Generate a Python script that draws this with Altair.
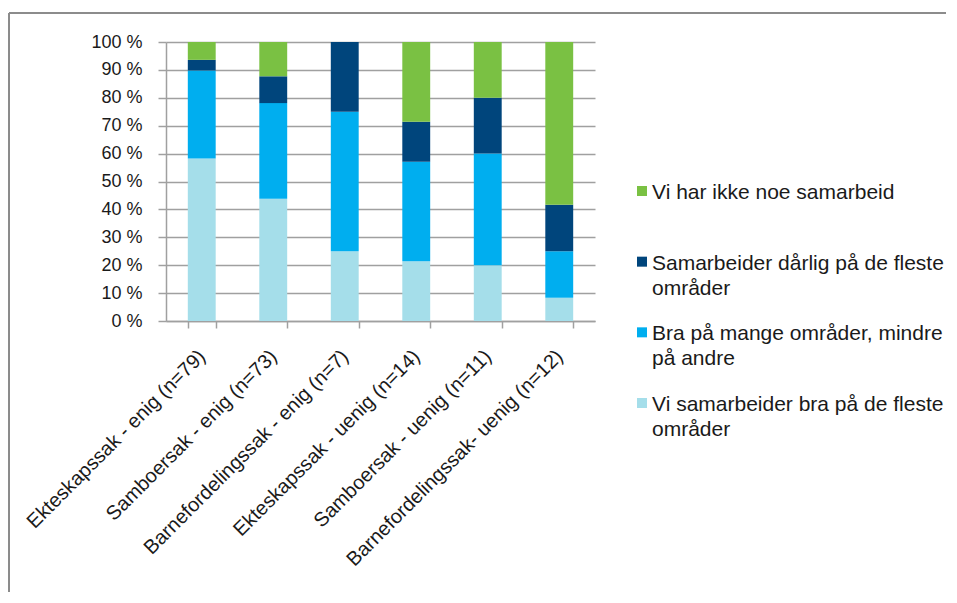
import altair as alt
import pandas as pd

categories = [
    "Ekteskapssak - enig (n=79)",
    "Samboersak - enig (n=73)",
    "Barnefordelingssak - enig (n=7)",
    "Ekteskapssak - uenig (n=14)",
    "Samboersak - uenig (n=11)",
    "Barnefordelingssak- uenig (n=12)",
]
series = [
    "Vi samarbeider bra på de fleste områder",
    "Bra på mange områder, mindre på andre",
    "Samarbeider dårlig på de fleste områder",
    "Vi har ikke noe samarbeid",
]
legend_labels = [
    "Vi samarbeider bra på de fleste\nområder",
    "Bra på mange områder, mindre\npå andre",
    "Samarbeider dårlig på de fleste\nområder",
    "Vi har ikke noe samarbeid",
]
light = [58.2, 43.8, 25.0, 21.4, 20.0, 8.3]
blue = [31.6, 34.3, 50.0, 35.7, 40.0, 16.7]
dark = [3.8, 9.6, 25.0, 14.3, 20.0, 16.7]
green = [6.4, 12.3, 0.0, 28.6, 20.0, 58.3]
y_ticks = [0, 10, 20, 30, 40, 50, 60, 70, 80, 90, 100]

colors = ["#A5DEEA", "#00AEEF", "#00457C", "#7AC143"]
FONT = "Liberation Sans, Arial, sans-serif"
GRID = "#A0A0A0"

rows = []
for si, (s, vals) in enumerate(zip(series, [light, blue, dark, green])):
    for c, v in zip(categories, vals):
        rows.append({"kategori": c, "serie": s, "verdi": v, "rekkefolge": si})
df = pd.DataFrame(rows)

leg = pd.DataFrame({"serie": series, "tekst": legend_labels})

color_scale = alt.Scale(domain=series, range=colors)

bars = alt.Chart(df).mark_bar().encode(
    x=alt.X(
        "kategori:N",
        sort=categories,
        scale=alt.Scale(paddingInner=0.61, paddingOuter=0.305),
        axis=alt.Axis(
            title=None,
            labelAngle=-45,
            labelAlign="right",
            labelBaseline="middle",
            labelFont=FONT,
            labelFontSize=20,
            labelColor="#1a1a1a",
            labelPadding=25,
            labelLimit=400,
            tickBand="extent",
            tickSize=7,
            tickColor=GRID,
            tickWidth=1.5,
            domainColor=GRID,
            domainWidth=1.5,
            grid=False,
        ),
    ),
    y=alt.Y(
        "verdi:Q",
        stack="zero",
        scale=alt.Scale(domain=[0, 100], nice=False),
        axis=alt.Axis(
            title=None,
            values=y_ticks,
            labelExpr="datum.value + ' %'",
            labelFont=FONT,
            labelFontSize=18,
            labelColor="#1a1a1a",
            labelPadding=16,
            tickSize=8,
            tickColor=GRID,
            tickWidth=1.5,
            domainColor=GRID,
            domainWidth=1.5,
            grid=True,
            gridColor=GRID,
            gridWidth=1.5,
        ),
    ),
    color=alt.Color("serie:N", scale=color_scale, legend=None),
    order=alt.Order("rekkefolge:Q", sort="ascending"),
)

leg_y = alt.Y(
    "serie:N",
    sort=list(reversed(series)),
    scale=alt.Scale(type="point", range=[149, 361], padding=0),
    axis=None,
)
leg_sq = alt.Chart(leg).mark_square(size=100, opacity=1).encode(
    x=alt.value(476),
    y=leg_y,
    color=alt.Color("serie:N", scale=color_scale, legend=None),
)
leg_tx = alt.Chart(leg).mark_text(
    align="left", baseline="alphabetic", dy=8, lineBreak="\n", lineHeight=25,
    font=FONT, fontSize=21, color="#1a1a1a",
).encode(
    x=alt.value(486),
    y=leg_y,
    text="tekst:N",
)
legend = alt.layer(leg_sq, leg_tx)

frame_v = alt.Chart(df).mark_rule(color="#8C8C8C", strokeWidth=1.3).encode(
    x=alt.value(-157), y=alt.value(-29), y2=alt.value(550)
)
frame_h = alt.Chart(df).mark_rule(color="#8C8C8C", strokeWidth=1.3).encode(
    x=alt.value(-157), x2=alt.value(780), y=alt.value(-29)
)

chart = (
    alt.layer(frame_v, frame_h, bars, legend)
    .resolve_scale(y="independent")
    .properties(width=429, height=279, padding={"left": 0, "top": 4, "right": 0, "bottom": 0})
    .configure_view(stroke=None)
)

chart.save("out.html", embed_options={"renderer": "svg", "actions": False})
